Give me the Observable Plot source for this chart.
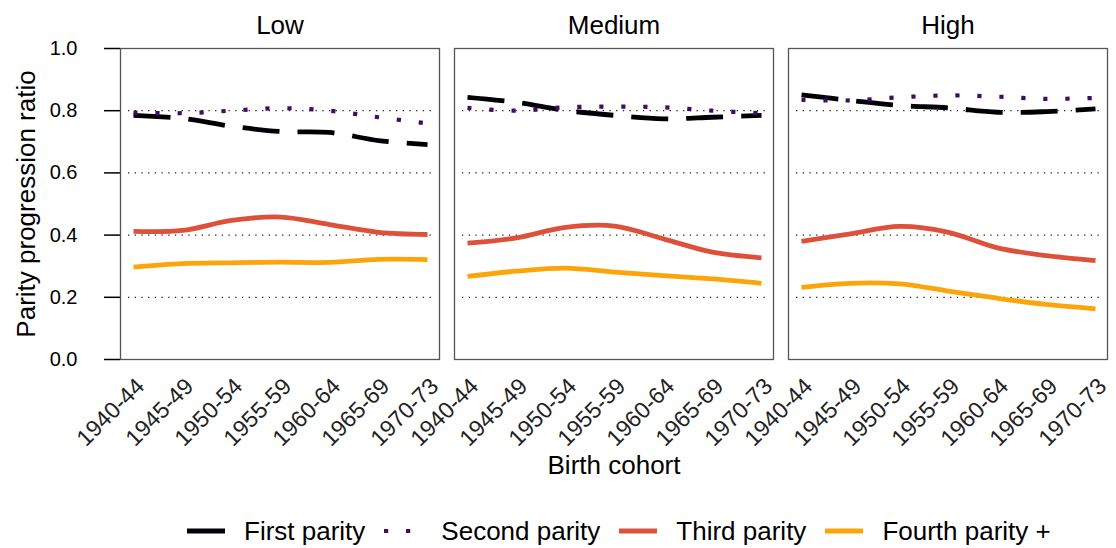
<!DOCTYPE html>
<html>
<head>
<meta charset="utf-8">
<script src="https://cdn.jsdelivr.net/npm/d3@7"></script>
<script src="https://cdn.jsdelivr.net/npm/@observablehq/plot@0.6"></script>
<style>
  html, body { margin: 0; padding: 0; background: #fff; }
  body { width: 1116px; height: 548px; overflow: hidden; font-family: "Liberation Sans", Arial, sans-serif; }
  #legend { position: relative; height: 82px; display: flex; align-items: center; padding-left: 187px; gap: 19px; font-size: 26px; color: #000; }
  #legend .item { display: flex; align-items: center; gap: 19px; }
  #legend svg { display: block; }
</style>
</head>
<body>
<div id="chart"></div>
<div id="legend"></div>
<script>
// ---- Data ----
const cohorts = ["1940-44", "1945-49", "1950-54", "1955-59", "1960-64", "1965-69", "1970-73"];
const levels = ["Low", "Medium", "High"];
const parities = ["First parity", "Second parity", "Third parity", "Fourth parity +"];
const yTicks = [0, 0.2, 0.4, 0.6, 0.8, 1.0];
const gridValues = [0.2, 0.4, 0.6, 0.8];

const lowFirst   = [0.785, 0.775, 0.750, 0.733, 0.730, 0.704, 0.691];
const lowSecond  = [0.794, 0.792, 0.800, 0.808, 0.800, 0.779, 0.759];
const lowThird   = [0.412, 0.415, 0.447, 0.458, 0.434, 0.409, 0.402];
const lowFourth  = [0.297, 0.308, 0.311, 0.313, 0.312, 0.322, 0.321];

const medFirst   = [0.843, 0.827, 0.801, 0.785, 0.774, 0.779, 0.785];
const medSecond  = [0.809, 0.800, 0.811, 0.813, 0.811, 0.800, 0.792];
const medThird   = [0.374, 0.391, 0.425, 0.429, 0.388, 0.345, 0.327];
const medFourth  = [0.267, 0.284, 0.294, 0.281, 0.270, 0.259, 0.245];

const highFirst  = [0.851, 0.833, 0.817, 0.809, 0.795, 0.797, 0.806];
const highSecond = [0.835, 0.833, 0.843, 0.849, 0.845, 0.838, 0.841];
const highThird  = [0.380, 0.404, 0.428, 0.409, 0.359, 0.334, 0.318];
const highFourth = [0.232, 0.245, 0.243, 0.220, 0.197, 0.177, 0.163];

// ---- Styles ----
const colors = ["#000004", "#420A68", "#DD513A", "#FCA50A"];
const dashes = ["37,18", "4.2,17.8", null, null];
const widths = [4.8, 4.2, 4.8, 4.8];

const series = {
  "Low":    [lowFirst, lowSecond, lowThird, lowFourth],
  "Medium": [medFirst, medSecond, medThird, medFourth],
  "High":   [highFirst, highSecond, highThird, highFourth]
};

const data = [];
levels.forEach(lv => parities.forEach((p, j) => series[lv][j].forEach((v, k) => {
  data.push({level: lv, parity: p, cohort: cohorts[k], value: v});
})));

const tickLabels = [];
levels.forEach(lv => cohorts.forEach(c => tickLabels.push({level: lv, cohort: c})));

const font = "'Liberation Sans', Arial, sans-serif";

const chart = Plot.plot({
  width: 1116,
  height: 490,
  marginLeft: 119,
  marginRight: 8,
  marginTop: 48,
  marginBottom: 131,
  style: {fontFamily: font, background: "white", color: "#000", overflow: "visible"},
  fx: {domain: levels, paddingInner: 0.045, paddingOuter: 0, axis: null, label: null},
  x: {type: "point", domain: cohorts, padding: 0.23, axis: null, label: null},
  y: {domain: [0, 1], label: null},
  marks: [
    Plot.ruleY(gridValues, {stroke: "#222", strokeWidth: 1.3, strokeDasharray: "1.3,5.4", insetLeft: 8, insetRight: 4}),
    ...parities.map((p, j) => Plot.line(data.filter(d => d.parity === p), {
      x: "cohort", y: "value", fx: "level",
      stroke: colors[j], strokeWidth: widths[j],
      strokeDasharray: dashes[j] ?? undefined,
      strokeLinecap: "butt", strokeLinejoin: "round",
      curve: "catmull-rom"
    })),
    Plot.frame({stroke: "#555", strokeWidth: 1.3}),
    Plot.axisY({ticks: yTicks, tickFormat: d => d.toFixed(1), tickSize: 16, tickPadding: 27, fontSize: 20, label: null, stroke: "#000", strokeWidth: 1.5}),
    Plot.text(tickLabels, {x: "cohort", fx: "level", text: "cohort", frameAnchor: "bottom", dy: 23, dx: 7, rotate: -45, textAnchor: "end", lineAnchor: "middle", fontSize: 23, fill: "#222"}),
    Plot.text(levels, {fx: d => d, text: d => d, frameAnchor: "top", dy: -23, lineAnchor: "middle", textAnchor: "middle", fontSize: 26}),
    Plot.text([{fx: "Low", t: "Parity progression ratio"}], {fx: "fx", text: "t", frameAnchor: "left", dx: -94, rotate: -90, textAnchor: "middle", lineAnchor: "middle", fontSize: 26}),
    Plot.text([{fx: "Medium", t: "Birth cohort"}], {fx: "fx", text: "t", frameAnchor: "bottom", dy: 106, textAnchor: "middle", lineAnchor: "middle", fontSize: 26})
  ]
});
document.getElementById("chart").appendChild(chart);

// ---- Legend ----
const legend = d3.select("#legend");
parities.forEach((p, j) => {
  const item = legend.append("div").attr("class", "item");
  const svg = item.append("svg").attr("width", 38).attr("height", 12);
  svg.append("line")
    .attr("x1", 0).attr("x2", 38).attr("y1", 6).attr("y2", 6)
    .attr("stroke", colors[j])
    .attr("stroke-width", widths[j])
    .attr("stroke-dasharray", dashes[j] && j === 1 ? dashes[j] : null);
  item.append("span").text(p);
});
</script>
</body>
</html>
